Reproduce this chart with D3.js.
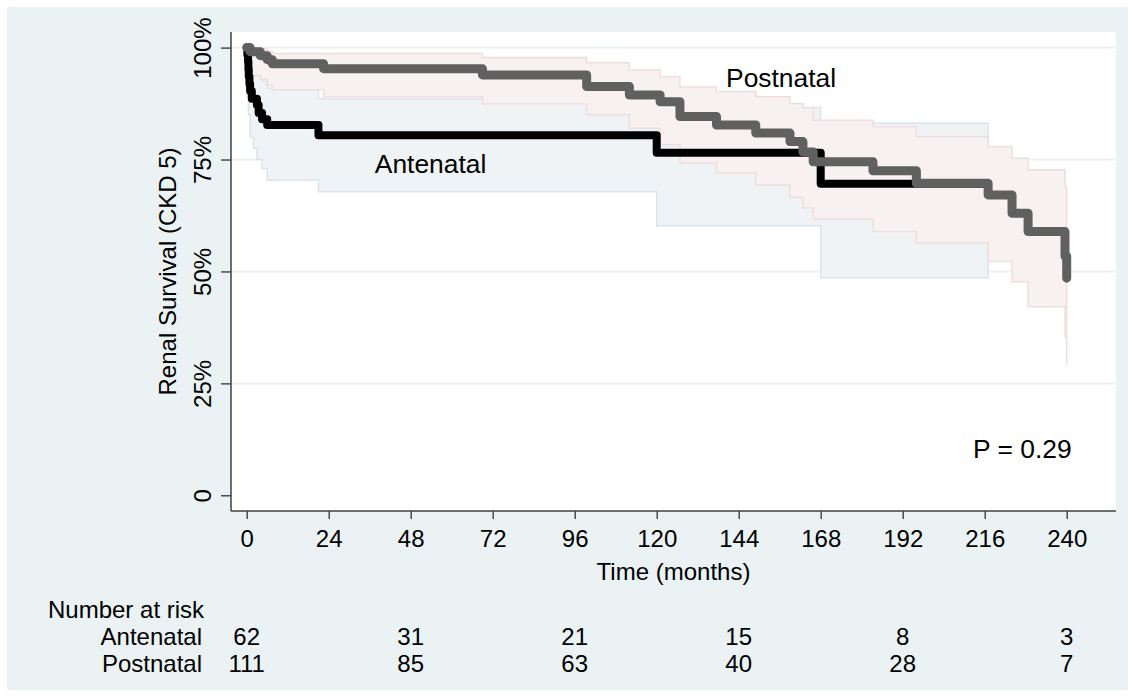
<!DOCTYPE html>
<html>
<head>
<meta charset="utf-8">
<script src="https://cdn.jsdelivr.net/npm/d3@7"></script>
<style>
  body { margin: 0; background: #fff; }
  svg text { font-family: "Liberation Sans", Arial, sans-serif; fill: #000; }
</style>
</head>
<body>
<div id="chart"></div>
<script>
// Kaplan-Meier estimates: [month, survival %]
const antenatalKM = [
  [0, 100], [0.2, 98.4], [0.4, 96.8], [0.5, 95.1], [0.6, 93.5], [0.8, 91.9],
  [1, 90.3], [1.5, 88.6], [3, 87.2], [3.5, 85.4], [4.5, 84.0], [6, 82.7],
  [21, 80.4], [120, 76.5], [168, 69.6], [217, 69.6]
];
const postnatalKM = [
  [0, 100], [1, 99.1], [4, 98.2], [6, 97.3], [7.5, 96.4], [22.5, 95.3],
  [69, 93.9], [99.5, 91.3], [112, 89.4], [121, 87.9], [126.8, 84.6],
  [137.5, 82.7], [149, 80.9], [159, 79.0], [162.8, 76.7], [165.8, 74.5],
  [183.3, 72.5], [196, 69.7], [217, 67.1], [224, 63.0], [228.7, 58.9],
  [239.5, 53.4], [240, 48.5]
];

// 95% confidence bands: [month, lower %, upper %]
const antenatalCI = [
  [0, 100, 100], [0.2, 89, 100], [0.5, 85, 99.5], [1, 80, 97], [2, 77.5, 95],
  [3, 75, 94], [4.5, 73, 92.5], [6, 70.4, 91], [21, 67.8, 88.6],
  [120, 60.2, 86.6], [168, 48.6, 83.1], [217, 48.6, 83.1]
];
const postnatalCI = [
  [0, 100, 100], [1, 93.8, 99.9], [4, 93, 99.7], [6, 91.6, 99.2],
  [7.5, 90.6, 98.7], [22.5, 89.0, 98.7], [69, 87.4, 97.8], [99.5, 85.0, 96.6],
  [112, 82.0, 95.0], [121, 78.3, 93.5], [126.8, 74.2, 91.2], [137.5, 72.0, 90.2],
  [149, 69.3, 89.0], [159, 66.6, 87.5], [162.8, 64.2, 86.5], [165.8, 61.7, 83.8],
  [183.3, 58.9, 82.3], [196, 56.4, 80.1], [217, 52.2, 77.9], [224, 47.7, 75.3],
  [228.7, 42.1, 72.7], [239.5, 35.4, 68.9], [240, 29.1, 66]
];

const xTicks = [0, 24, 48, 72, 96, 120, 144, 168, 192, 216, 240];
const yTicks = [0, 25, 50, 75, 100];
const yTickLabels = ["0", "25%", "50%", "75%", "100%"];
const gridValues = [25, 50, 75, 100];

// number at risk table
const riskTimes = [0, 48, 96, 144, 192, 240];
const riskGroups = ["Antenatal", "Postnatal"];
const antenatalRisk = [62, 31, 21, 15, 8, 3];
const postnatalRisk = [111, 85, 63, 40, 28, 7];

const width = 1133;
const height = 699;
const plot = { left: 231, top: 32, right: 1116, bottom: 511 };
const fontSize = 24;

const svg = d3.select("#chart").append("svg")
    .attr("width", width)
    .attr("height", height);

// graph region
svg.append("rect")
    .attr("x", 7).attr("y", 7)
    .attr("width", 1121).attr("height", 683)
    .attr("fill", "#eaf2f3");

// plot region
svg.append("rect")
    .attr("x", plot.left).attr("y", plot.top)
    .attr("width", plot.right - plot.left)
    .attr("height", plot.bottom - plot.top)
    .attr("fill", "#fff");

const x = d3.scaleLinear().domain([0, 240]).range([246.7, 1066.7]);
const y = d3.scaleLinear().domain([0, 100]).range([495.3, 47.6]);

// gridlines
svg.append("g")
    .selectAll("line")
    .data(gridValues)
    .join("line")
    .attr("x1", plot.left).attr("x2", plot.right)
    .attr("y1", d => y(d)).attr("y2", d => y(d))
    .attr("stroke", "#eaf2f3")
    .attr("stroke-width", 2);

// confidence bands
const band = d3.area()
    .curve(d3.curveStepAfter)
    .x(d => x(d[0]))
    .y0(d => y(d[1]))
    .y1(d => y(d[2]));

svg.append("path")
    .datum(antenatalCI)
    .attr("d", band)
    .attr("fill", "#eff3f6")
    .attr("stroke", "#dce4eb")
    .attr("stroke-width", 1.5);

svg.append("path")
    .datum(postnatalCI)
    .attr("d", band)
    .attr("fill", "#f7f1f1")
    .attr("stroke", "#efdede")
    .attr("stroke-width", 1.5);

// survival curves
const step = d3.line()
    .curve(d3.curveStepAfter)
    .x(d => x(d[0]))
    .y(d => y(d[1]));

svg.append("path")
    .datum(antenatalKM)
    .attr("d", step)
    .attr("fill", "none")
    .attr("stroke", "#000")
    .attr("stroke-width", 8)
    .attr("stroke-linejoin", "round")
    .attr("stroke-linecap", "round");

svg.append("path")
    .datum(postnatalKM)
    .attr("d", step)
    .attr("fill", "none")
    .attr("stroke", "#606060")
    .attr("stroke-width", 9)
    .attr("stroke-linejoin", "round")
    .attr("stroke-linecap", "round");

// curve labels
svg.append("text")
    .attr("x", x(37.5)).attr("y", y(71.9))
    .style("font-size", "26.4px")
    .text("Antenatal");

svg.append("text")
    .attr("x", x(140.3)).attr("y", y(91.1))
    .style("font-size", "26.4px")
    .text("Postnatal");

svg.append("text")
    .attr("x", x(212.6)).attr("y", y(8.3))
    .style("font-size", "26.4px")
    .text("P = 0.29");

// axes
const yAxis = svg.append("g")
    .attr("transform", `translate(${plot.left},0)`)
    .call(d3.axisLeft(y).tickValues(yTicks).tickSize(10)
        .tickFormat((d, i) => yTickLabels[i]));
yAxis.select(".domain").remove();
yAxis.selectAll("line").attr("stroke", "#333").attr("stroke-width", 1.3);
yAxis.selectAll("text")
    .attr("transform", "rotate(-90)")
    .attr("x", 0).attr("y", -20).attr("dy", null)
    .attr("text-anchor", "middle")
    .style("font-size", fontSize + "px")
    .style("font-family", null);

const xAxis = svg.append("g")
    .attr("transform", `translate(0,${plot.bottom})`)
    .call(d3.axisBottom(x).tickValues(xTicks).tickSize(8));
xAxis.select(".domain").remove();
xAxis.selectAll("line").attr("stroke", "#333").attr("stroke-width", 1.3);
xAxis.selectAll("text")
    .attr("y", 35.5).attr("dy", null)
    .style("font-size", fontSize + "px")
    .style("font-family", null);

svg.append("line")
    .attr("x1", plot.left).attr("x2", plot.left)
    .attr("y1", plot.top).attr("y2", plot.bottom)
    .attr("stroke", "#404040").attr("stroke-width", 1.5);
svg.append("line")
    .attr("x1", plot.left).attr("x2", plot.right)
    .attr("y1", plot.bottom).attr("y2", plot.bottom)
    .attr("stroke", "#404040").attr("stroke-width", 1.5);

// axis titles
svg.append("text")
    .attr("transform", `translate(176,${(y(0) + y(100)) / 2}) rotate(-90)`)
    .attr("text-anchor", "middle")
    .style("font-size", fontSize + "px")
    .text("Renal Survival (CKD 5)");

svg.append("text")
    .attr("x", (plot.left + plot.right) / 2).attr("y", 580)
    .attr("text-anchor", "middle")
    .style("font-size", fontSize + "px")
    .text("Time (months)");

// number at risk
svg.append("text")
    .attr("x", 48).attr("y", 618.3)
    .style("font-size", fontSize + "px")
    .text("Number at risk");

const riskRows = [antenatalRisk, postnatalRisk];
riskRows.forEach((row, i) => {
    const rowY = 644.5 + i * 27.5;
    svg.append("text")
        .attr("x", 202).attr("y", rowY)
        .attr("text-anchor", "end")
        .style("font-size", fontSize + "px")
        .text(riskGroups[i]);
    svg.append("g")
        .selectAll("text")
        .data(row)
        .join("text")
        .attr("x", (d, j) => x(riskTimes[j]))
        .attr("y", rowY)
        .attr("text-anchor", "middle")
        .style("font-size", fontSize + "px")
        .text(d => d);
});
</script>
</body>
</html>
